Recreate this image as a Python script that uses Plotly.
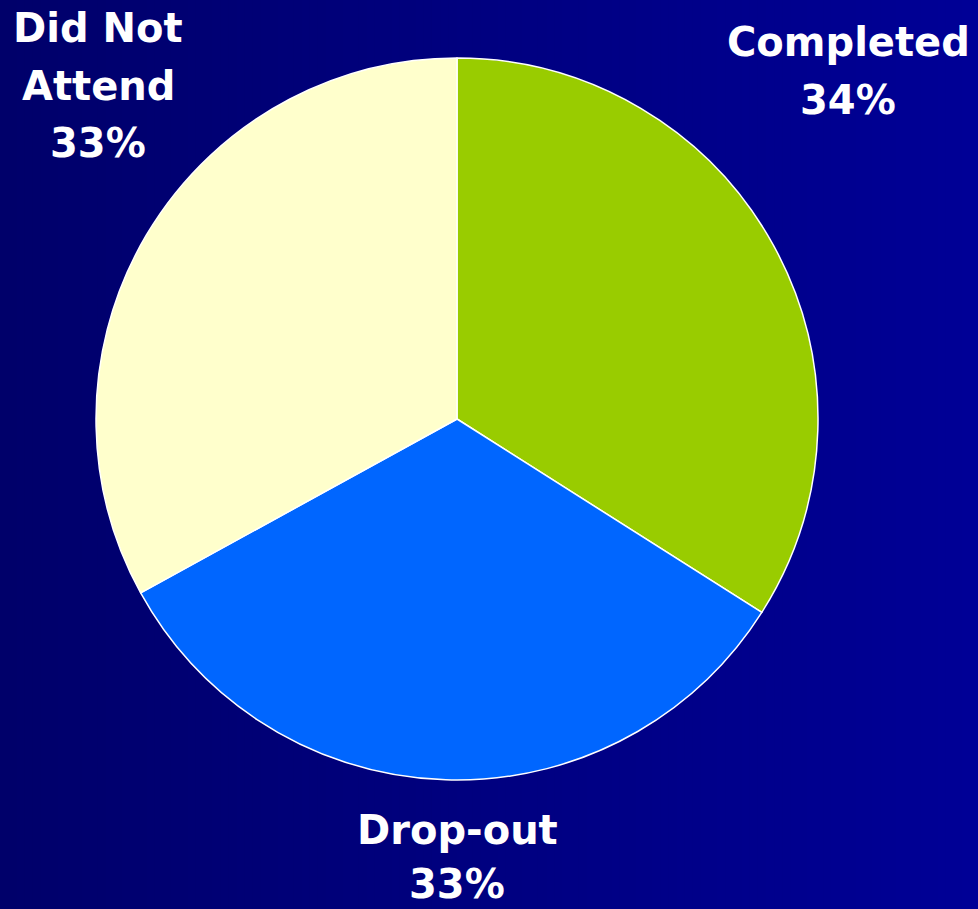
import plotly.graph_objects as go

# Course outcome shares
categories = ["Completed", "Drop-out", "Did Not Attend"]
values = [34, 33, 33]
colors = ["#99CC00", "#0066FF", "#FFFFCC"]

W, H = 978, 909

fig = go.Figure(
    go.Pie(
        labels=categories,
        values=values,
        sort=False,
        direction="clockwise",
        rotation=0,
        marker=dict(colors=colors, line=dict(color="white", width=1.5)),
        textinfo="none",
        hoverinfo="label+percent",
        showlegend=False,
        domain=dict(x=[96 / W, 818 / W], y=[1 - 780 / H, 1 - 58 / H]),
    )
)

# Horizontal navy gradient behind the chart
n_strips = 120
c0 = (0x00, 0x00, 0x6A)
c1 = (0x00, 0x00, 0x96)
shapes = []
for i in range(n_strips):
    t = i / (n_strips - 1)
    col = "rgb({},{},{})".format(*[round(a + (b - a) * t) for a, b in zip(c0, c1)])
    shapes.append(dict(type="rect", xref="paper", yref="paper",
                       x0=i / n_strips, x1=(i + 1) / n_strips + 0.002, y0=0, y1=1,
                       fillcolor=col, line=dict(width=0), layer="below"))

# Outside labels: one annotation per text line
pct = {c: f"{v}%" for c, v in zip(categories, values)}
label_lines = {
    "Did Not Attend": (98, [("Did Not", 28), ("Attend", 86), (pct["Did Not Attend"], 143)]),
    "Completed": (848, [("Completed", 42), (pct["Completed"], 100)]),
    "Drop-out": (457, [("Drop-out", 830), (pct["Drop-out"], 884)]),
}
annotations = []
for cat, (xc, lines) in label_lines.items():
    for txt, yc in lines:
        annotations.append(dict(
            text=f"<b>{txt}</b>", x=xc / W, y=1 - yc / H, xref="paper", yref="paper",
            xanchor="center", yanchor="middle", showarrow=False,
            font=dict(family="DejaVu Sans", size=40, color="white"),
        ))

fig.update_layout(
    width=W, height=H,
    margin=dict(l=0, r=0, t=0, b=0),
    paper_bgcolor="#000080",
    plot_bgcolor="rgba(0,0,0,0)",
    shapes=shapes,
    annotations=annotations,
)

fig.write_html("out.html")
